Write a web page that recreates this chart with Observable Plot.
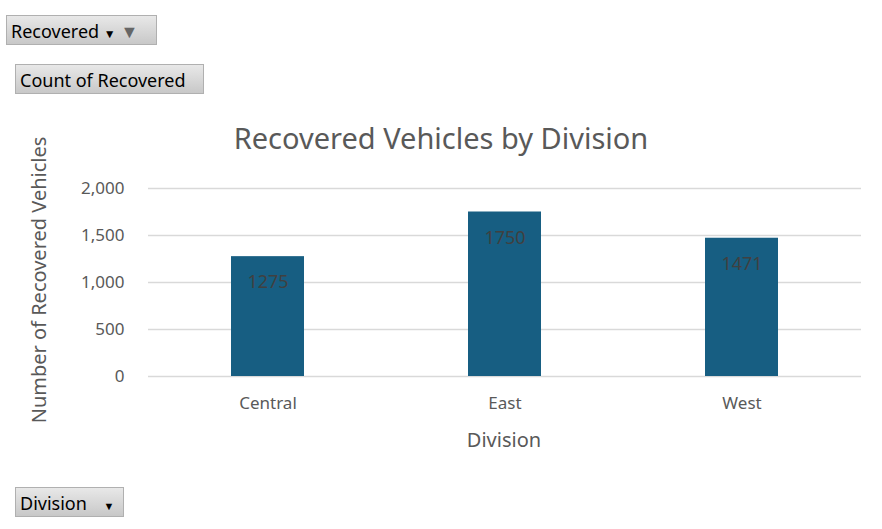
<!DOCTYPE html>
<html><head><meta charset="utf-8">
<script src="https://cdn.jsdelivr.net/npm/d3@7"></script>
<script src="https://cdn.jsdelivr.net/npm/@observablehq/plot@0.6"></script>
<style>
body{margin:0;background:#fff;font-family:"Noto Sans",Roboto,sans-serif;}
#wrap{position:relative;width:882px;height:529px;overflow:hidden;}
.btn{position:absolute;background:linear-gradient(#e8e8e8,#c8c8c8);border:1px solid #b0b0b0;font-size:18px;color:#000;height:30px;line-height:30px;padding-left:4px;box-sizing:border-box;}
.lbl{position:absolute;color:#595959;white-space:nowrap;}
</style></head><body>
<div id="wrap"><div id="chart"></div>
<div class="btn" style="left:6px;top:15px;width:151px">Recovered <span style="font-size:12px">&#9660;</span> <span style="color:#666">&#9660;</span></div>
<div class="btn" style="left:15px;top:64px;width:189px">Count of Recovered</div>
<div class="btn" style="left:15px;top:487px;width:109px">Division <span style="font-size:11px;padding-left:12px">&#9660;</span></div>
<div class="lbl" style="left:441px;top:118px;transform:translateX(-50%);font-size:29px">Recovered Vehicles by Division</div>
<div class="lbl" style="left:504px;top:426px;transform:translateX(-50%);font-size:20px">Division</div>
<div class="lbl" style="left:38px;top:280px;transform:translate(-50%,-50%) rotate(-90deg);font-size:20px">Number of Recovered Vehicles</div>
</div>
<script>
const divisions = ["Central", "East", "West"];
const counts = [1275, 1750, 1471];
const yTicks = [0, 500, 1000, 1500, 2000];
const data = divisions.map((d, i) => ({division: d, count: counts[i]}));

const chart = Plot.plot({
  width: 882, height: 529,
  marginLeft: 148, marginRight: 21, marginTop: 188, marginBottom: 153,
  style: {fontFamily: "Noto Sans, Roboto, sans-serif", fontSize: "17px", color: "#595959", background: "transparent"},
  x: {domain: divisions, paddingInner: 0.69, paddingOuter: 0.345, label: null, tickSize: 0, tickPadding: 20},
  y: {domain: [0, 2000], ticks: yTicks, label: null, tickSize: 0, tickPadding: 24},
  marks: [
    Plot.gridY(yTicks, {stroke: "#d9d9d9", strokeOpacity: 1, strokeWidth: 1.5}),
    Plot.barY(data, {x: "division", y: "count", fill: "#175e82"}),
    Plot.text(data, {x: "division", y: "count", text: d => String(d.count), dy: 26, fill: "#404040", fontSize: 18})
  ]
});
d3.select("#chart").append(() => chart);
</script></body></html>
